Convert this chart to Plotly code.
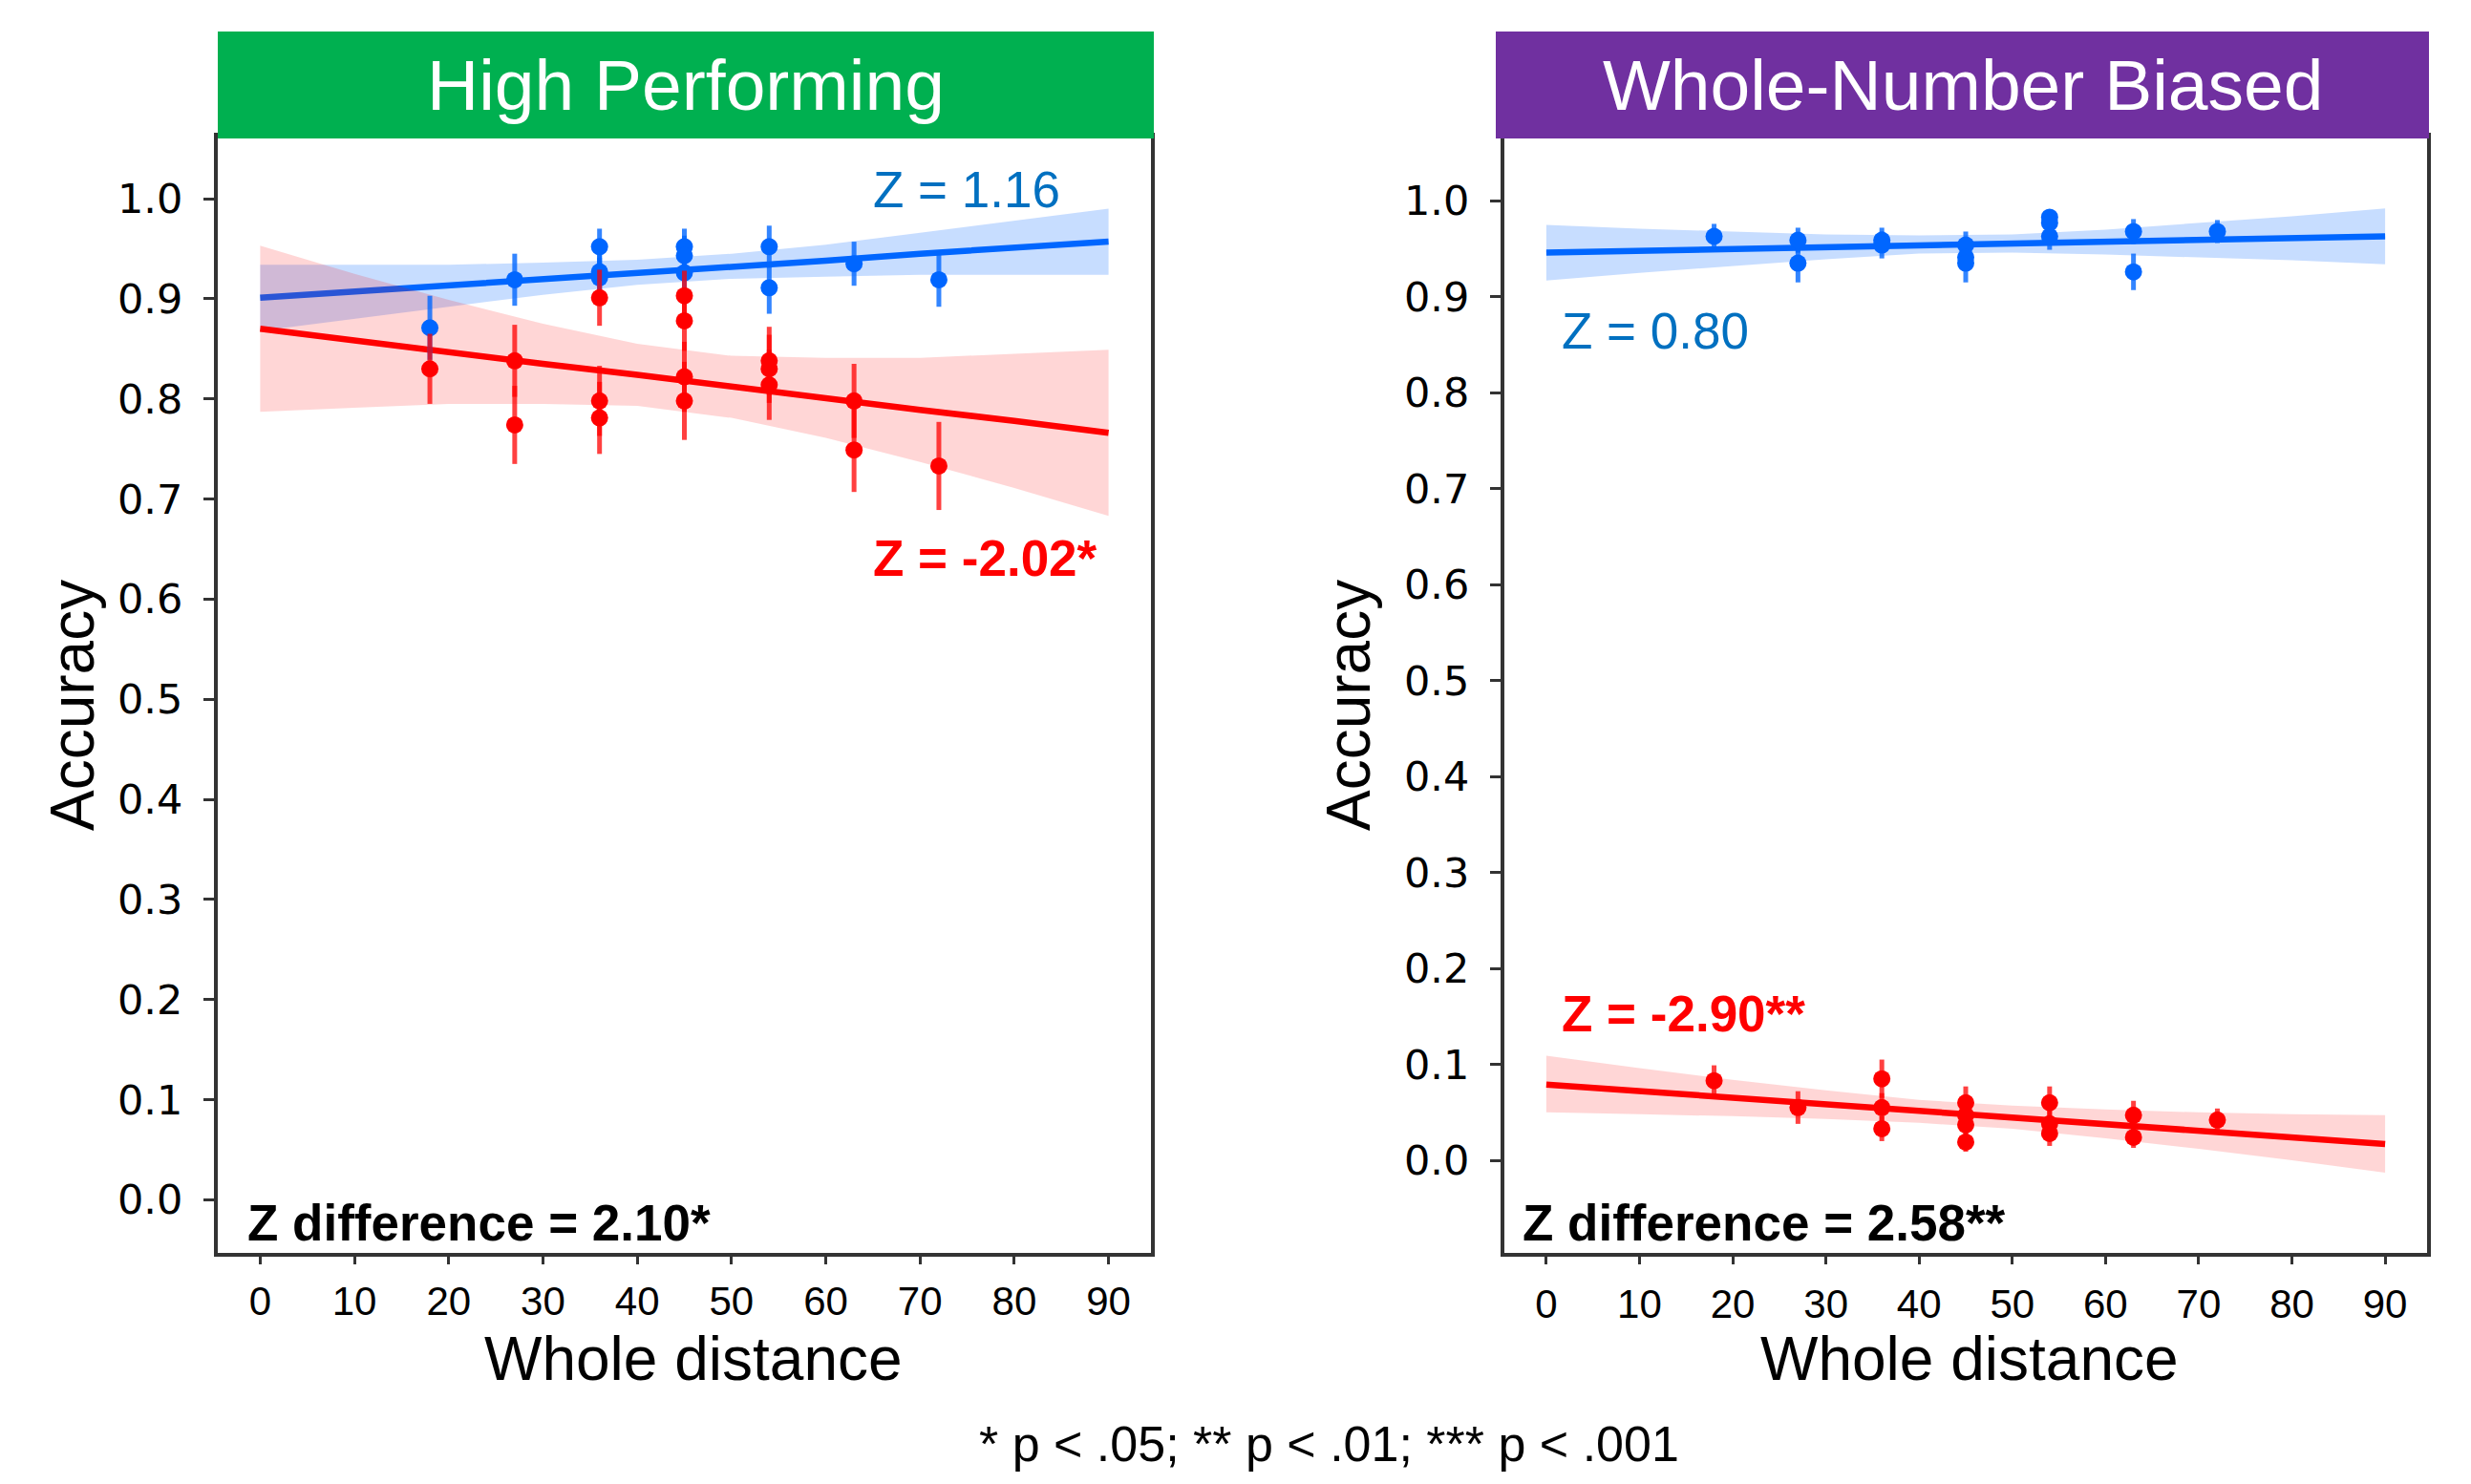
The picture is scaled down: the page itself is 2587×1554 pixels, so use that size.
import plotly.graph_objects as go

# ---------------- data ----------------
panels = ["High Performing", "Whole-Number Biased"]
strip_colors = ["#00B050", "#7030A0"]

# High Performing panel
hp_blue_x = [18, 27, 36, 36, 36, 45, 45, 45, 54, 54, 63, 72]
hp_blue_y = [0.871, 0.919, 0.952, 0.927, 0.921, 0.952, 0.943, 0.926, 0.952, 0.911, 0.935, 0.919]
hp_blue_err = [0.032, 0.026, 0.018, 0.020, 0.020, 0.018, 0.020, 0.020, 0.021, 0.026, 0.022, 0.027]

hp_red_x = [18, 27, 27, 36, 36, 36, 45, 45, 45, 45, 54, 54, 54, 63, 63, 72]
hp_red_y = [0.830, 0.838, 0.774, 0.901, 0.798, 0.781, 0.903, 0.878, 0.822, 0.798,
            0.838, 0.830, 0.814, 0.798, 0.749, 0.733]
hp_red_err = [0.035, 0.036, 0.039, 0.028, 0.035, 0.036, 0.025, 0.030, 0.035, 0.039,
              0.034, 0.034, 0.035, 0.037, 0.042, 0.044]

# Whole-Number Biased panel
wnb_blue_x = [18, 27, 27, 36, 36, 45, 45, 45, 54, 54, 54, 63, 63, 72]
wnb_blue_y = [0.963, 0.959, 0.935, 0.959, 0.954, 0.954, 0.941, 0.935, 0.983, 0.977,
              0.963, 0.968, 0.926, 0.968]
wnb_blue_err = [0.013, 0.013, 0.020, 0.013, 0.014, 0.014, 0.014, 0.020, 0.008, 0.010,
                0.014, 0.013, 0.019, 0.012]

wnb_red_x = [18, 27, 36, 36, 36, 45, 45, 45, 45, 54, 54, 54, 63, 63, 72]
wnb_red_y = [0.083, 0.055, 0.085, 0.055, 0.033, 0.060, 0.047, 0.037, 0.019, 0.060,
             0.038, 0.028, 0.047, 0.024, 0.042]
wnb_red_err = [0.016, 0.017, 0.020, 0.015, 0.013, 0.017, 0.014, 0.012, 0.010, 0.017,
               0.014, 0.013, 0.015, 0.011, 0.012]

# regression lines and confidence bands
fit_x = [0, 10, 20, 30, 40, 50, 60, 70, 80, 90]
hp_blue_fit = [0.901, 0.907, 0.913, 0.920, 0.926, 0.932, 0.938, 0.945, 0.951, 0.957]
hp_blue_hi = [0.934, 0.934, 0.934, 0.936, 0.939, 0.945, 0.954, 0.966, 0.978, 0.990]
hp_blue_lo = [0.868, 0.880, 0.892, 0.904, 0.914, 0.920, 0.922, 0.924, 0.924, 0.924]
hp_red_fit = [0.870, 0.858, 0.847, 0.835, 0.824, 0.812, 0.801, 0.789, 0.778, 0.766]
hp_red_hi = [0.953, 0.925, 0.899, 0.875, 0.855, 0.843, 0.841, 0.841, 0.845, 0.849]
hp_red_lo = [0.787, 0.791, 0.795, 0.795, 0.793, 0.781, 0.761, 0.737, 0.711, 0.683]

wnb_blue_fit = [0.946, 0.948, 0.950, 0.952, 0.954, 0.955, 0.957, 0.959, 0.961, 0.963]
wnb_blue_hi = [0.975, 0.971, 0.968, 0.965, 0.964, 0.965, 0.970, 0.977, 0.984, 0.992]
wnb_blue_lo = [0.917, 0.925, 0.932, 0.939, 0.945, 0.946, 0.944, 0.941, 0.938, 0.934]
wnb_red_fit = [0.079, 0.072, 0.065, 0.058, 0.051, 0.045, 0.038, 0.031, 0.024, 0.017]
wnb_red_hi = [0.109, 0.096, 0.084, 0.073, 0.063, 0.057, 0.053, 0.050, 0.048, 0.047]
wnb_red_lo = [0.050, 0.048, 0.046, 0.043, 0.039, 0.033, 0.023, 0.012, 0.000, -0.013]

x_ticks = [0, 10, 20, 30, 40, 50, 60, 70, 80, 90]
y_ticks = [0.0, 0.1, 0.2, 0.3, 0.4, 0.5, 0.6, 0.7, 0.8, 0.9, 1.0]
y_ticktext = ["0.0", "0.1", "0.2", "0.3", "0.4", "0.5", "0.6", "0.7", "0.8", "0.9", "1.0"]

z_blue = ["Z = 1.16", "Z = 0.80"]
z_red = ["Z = -2.02*", "Z = -2.90**"]
z_diff = ["Z difference = 2.10*", "Z difference = 2.58**"]
footnote = "* p < .05; ** p < .01; *** p < .001"

# ---------------- styling ----------------
SCREEN_W, SCREEN_H = 2587, 1554
OFF = 8  # default page body margin
W, H = SCREEN_W - 2 * OFF, SCREEN_H - 2 * OFF
BLUE = "#0066FF"
RED = "#FF0000"
BLUE_BAR = "rgba(0,102,255,0.80)"
RED_BAR = "rgba(255,0,0,0.75)"
BLUE_BAND = "rgba(0,102,255,0.22)"
RED_BAND = "rgba(255,0,0,0.16)"
FRAME = "#333333"
FONT = "Liberation Sans, Arial, sans-serif"


def px(x):
    return (x - OFF) / W


def py(y):
    return 1 - (y - OFF) / H


fig = go.Figure()

panel_data = [
    dict(bx=hp_blue_x, by=hp_blue_y, be=hp_blue_err, rx=hp_red_x, ry=hp_red_y, re=hp_red_err,
         bf=hp_blue_fit, bh=hp_blue_hi, bl=hp_blue_lo, rf=hp_red_fit, rh=hp_red_hi, rl=hp_red_lo),
    dict(bx=wnb_blue_x, by=wnb_blue_y, be=wnb_blue_err, rx=wnb_red_x, ry=wnb_red_y, re=wnb_red_err,
         bf=wnb_blue_fit, bh=wnb_blue_hi, bl=wnb_blue_lo, rf=wnb_red_fit, rh=wnb_red_hi, rl=wnb_red_lo),
]

for i, d in enumerate(panel_data):
    xa = "x" if i == 0 else "x2"
    ya = "y" if i == 0 else "y2"
    band_x = fit_x + fit_x[::-1]
    fig.add_trace(go.Scatter(x=band_x, y=d["bh"] + d["bl"][::-1], fill="toself",
                             fillcolor=BLUE_BAND, line=dict(width=0), mode="lines",
                             hoverinfo="skip", showlegend=False, xaxis=xa, yaxis=ya))
    fig.add_trace(go.Scatter(x=fit_x, y=d["bf"], mode="lines", line=dict(color=BLUE, width=6.5),
                             showlegend=False, xaxis=xa, yaxis=ya))
    fig.add_trace(go.Scatter(x=band_x, y=d["rh"] + d["rl"][::-1], fill="toself",
                             fillcolor=RED_BAND, line=dict(width=0), mode="lines",
                             hoverinfo="skip", showlegend=False, xaxis=xa, yaxis=ya))
    fig.add_trace(go.Scatter(x=fit_x, y=d["rf"], mode="lines", line=dict(color=RED, width=6.5),
                             showlegend=False, xaxis=xa, yaxis=ya))
    fig.add_trace(go.Scatter(x=d["bx"], y=d["by"], mode="markers",
                             marker=dict(color=BLUE, size=18),
                             error_y=dict(type="data", array=d["be"], color=BLUE_BAR,
                                          thickness=5, width=0),
                             showlegend=False, xaxis=xa, yaxis=ya))
    fig.add_trace(go.Scatter(x=d["rx"], y=d["ry"], mode="markers",
                             marker=dict(color=RED, size=18),
                             error_y=dict(type="data", array=d["re"], color=RED_BAR,
                                          thickness=5, width=0),
                             showlegend=False, xaxis=xa, yaxis=ya))

# panel geometry (screen pixels)
frame_left = [228, 1575]
frame_right = [1205, 2541]
strip_left = [228, 1566]
strip_right = [1208, 2543]
frame_top, frame_bottom = 143, 1312
strip_top = 33
x_standoff = [3, 6]

common_x = dict(range=[-4.5, 94.5], tickvals=x_ticks, ticks="outside", ticklen=8, tickwidth=3,
                tickcolor=FRAME, showline=True, linecolor=FRAME, linewidth=4, mirror=True,
                showgrid=False, zeroline=False,
                tickfont=dict(family=FONT, size=42, color="black"))
common_y = dict(tickvals=y_ticks, ticktext=y_ticktext, ticks="outside", ticklen=11, tickwidth=3,
                tickcolor=FRAME, showline=True, linecolor=FRAME, linewidth=4, mirror=True,
                showgrid=False, zeroline=False, ticklabelstandoff=13,
                tickfont=dict(family="DejaVu Sans, sans-serif", size=43, color="black"))

fig.update_layout(
    xaxis=dict(domain=[px(frame_left[0]), px(frame_right[0])], anchor="y",
               ticklabelstandoff=x_standoff[0], **common_x),
    yaxis=dict(domain=[py(frame_bottom), py(frame_top)], range=[-0.053, 1.062], anchor="x", **common_y),
    xaxis2=dict(domain=[px(frame_left[1]), px(frame_right[1])], anchor="y2",
                ticklabelstandoff=x_standoff[1], **common_x),
    yaxis2=dict(domain=[py(frame_bottom), py(frame_top)], range=[-0.0965, 1.067], anchor="x2", **common_y),
)

shapes = []
annotations = []
for i in range(2):
    shapes.append(dict(type="rect", xref="paper", yref="paper",
                       x0=px(strip_left[i]), x1=px(strip_right[i]),
                       y0=py(frame_top + 2), y1=py(strip_top),
                       fillcolor=strip_colors[i], line=dict(width=0), layer="above"))
    annotations.append(dict(text=panels[i], xref="paper", yref="paper",
                            x=px((strip_left[i] + strip_right[i]) / 2), y=py(89),
                            xanchor="center", yanchor="middle", showarrow=False,
                            font=dict(family=FONT, size=75, color="white")))

annotations += [
    dict(text="Whole distance", xref="paper", yref="paper", x=px(726), y=py(1423),
         xanchor="center", yanchor="middle", showarrow=False,
         font=dict(family=FONT, size=64, color="black")),
    dict(text="Whole distance", xref="paper", yref="paper", x=px(2062), y=py(1423),
         xanchor="center", yanchor="middle", showarrow=False,
         font=dict(family=FONT, size=64, color="black")),
    dict(text="Accuracy", xref="paper", yref="paper", x=px(76), y=py(739), textangle=-90,
         xanchor="center", yanchor="middle", showarrow=False,
         font=dict(family=FONT, size=64, color="black")),
    dict(text="Accuracy", xref="paper", yref="paper", x=px(1412), y=py(739), textangle=-90,
         xanchor="center", yanchor="middle", showarrow=False,
         font=dict(family=FONT, size=64, color="black")),
]

zpos_blue = [(912, 198), (1633, 347)]
zpos_red = [(912, 584), (1633, 1061)]
zpos_diff = [(257, 1280), (1592, 1280)]
for i in range(2):
    annotations.append(dict(text=z_blue[i], xref="paper", yref="paper",
                            x=px(zpos_blue[i][0]), y=py(zpos_blue[i][1]),
                            xanchor="left", yanchor="middle", showarrow=False,
                            font=dict(family=FONT, size=53, color="#0070C0")))
    annotations.append(dict(text="<b>" + z_red[i] + "</b>", xref="paper", yref="paper",
                            x=px(zpos_red[i][0]), y=py(zpos_red[i][1]),
                            xanchor="left", yanchor="middle", showarrow=False,
                            font=dict(family=FONT, size=53, color=RED)))
    annotations.append(dict(text="<b>" + z_diff[i] + "</b>", xref="paper", yref="paper",
                            x=px(zpos_diff[i][0]), y=py(zpos_diff[i][1]),
                            xanchor="left", yanchor="middle", showarrow=False,
                            font=dict(family=FONT, size=53, color="black")))

annotations.append(dict(text=footnote, xref="paper", yref="paper", x=px(1391), y=py(1512),
                        xanchor="center", yanchor="middle", showarrow=False,
                        font=dict(family=FONT, size=52, color="black")))

fig.update_layout(
    width=W, height=H, margin=dict(l=0, r=0, t=0, b=0),
    paper_bgcolor="white", plot_bgcolor="white",
    shapes=shapes, annotations=annotations, showlegend=False,
)

fig.write_html("out.html")
